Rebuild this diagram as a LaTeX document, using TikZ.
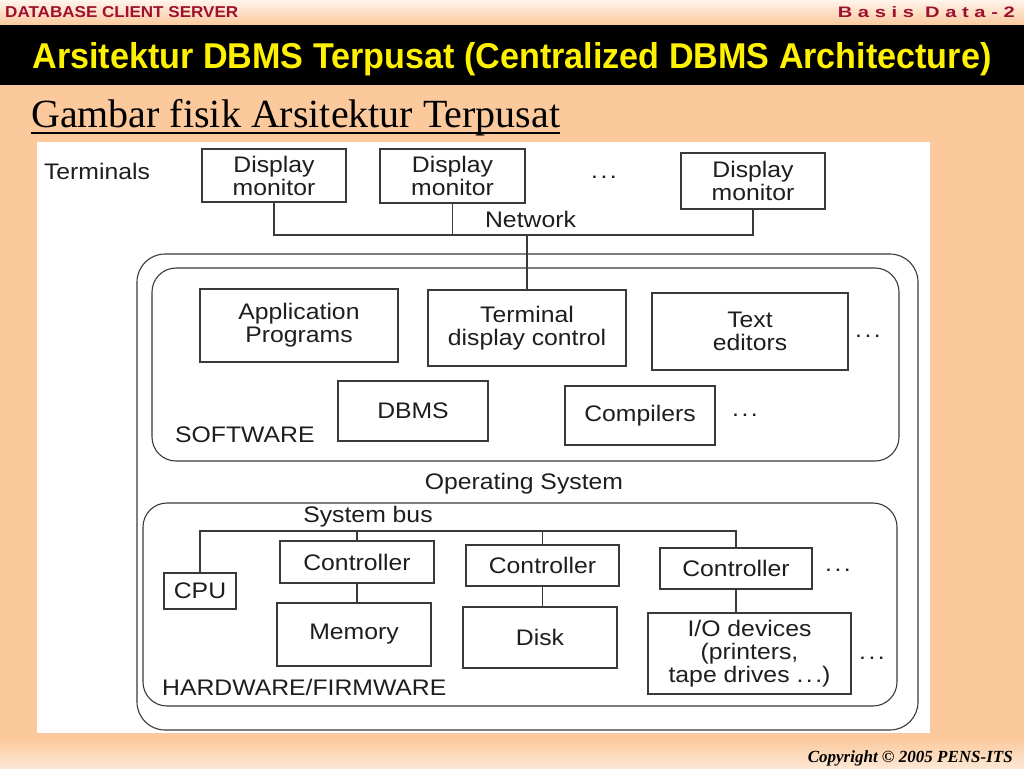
\documentclass[tikz,border=0pt]{standalone}
\usepackage{fontspec}
\setmainfont{Liberation Serif}
\newfontfamily\arial{Liberation Sans}
\newfontfamily\arialwide[FakeStretch=1.1]{Liberation Sans}
\usepackage{graphicx}
\definecolor{peach}{HTML}{FBC99C}
\definecolor{peachlight}{HTML}{FFF4EC}
\definecolor{hdrred}{HTML}{9E1030}
\definecolor{ink}{HTML}{1E1E1E}
\definecolor{linegray}{HTML}{3A3A3A}
\newcommand{\mydots}{.\kern2.5pt.\kern2.5pt.}
\tikzset{
  dtext/.style={inner sep=0pt, text=ink, align=center, font=\arialwide\fontsize{22.5}{23}\selectfont},
  dbox/.style={dtext, draw=linegray, line width=1.1pt},
  group/.style={draw=linegray, line width=1.1pt, inner sep=0pt},
  wire/.style={draw=linegray, line width=1.1pt},
}
\begin{document}
\begin{tikzpicture}[x=1pt,y=-1pt]
\useasboundingbox (0,0) rectangle (1024,768);
% background
\fill[peach] (0,0) rectangle (1024,768);
\shade[top color=peachlight, bottom color=peach] (0,0) rectangle (1024,25);
\shade[top color=peach, bottom color=peachlight!70!peach] (0,738) rectangle (1024,768);
% header
\node[anchor=west, inner sep=0pt, text=hdrred, font=\arial\bfseries] (hdrL) at (5,12.5)
  {\resizebox{233pt}{11pt}{DATABASE CLIENT SERVER}};
\node[anchor=east, inner sep=0pt, text=hdrred, font=\arial\bfseries] (hdrR) at (1015,12.5)
  {\resizebox{177pt}{11pt}{B a s i s\ \ D a t a - 2}};
\fill[black] (0,25) rectangle (1024,85);
\node[anchor=base, inner sep=0pt, text=yellow, font=\arial\bfseries] (title) at (512,69)
  {\resizebox{959pt}{26pt}{Arsitektur DBMS Terpusat (Centralized DBMS Architecture)}};
% heading
\node[anchor=base west, inner sep=0pt, text=black, font=\fontsize{38}{40}\selectfont] (head) at (31,127)
  {\resizebox{529pt}{!}{Gambar fisik Arsitektur Terpusat}};
\draw[line width=1.6pt] ([yshift=-6pt]head.base west) -- ([yshift=-6pt]head.base east);
% picture area
\fill[white] (37,142) rectangle (930,733);
% copyright
\node[anchor=base east, inner sep=0pt, font=\bfseries\itshape] (copy) at (1013,762)
  {\resizebox{205pt}{!}{Copyright \textcopyright{} 2005 PENS-ITS}};

% ---- diagram ----
\node[dtext] (terminals) at (97,171) {Terminals};
\node[dbox, minimum width=144pt, minimum height=53pt] (d1) at (274,175.5) {Display\\monitor};
\node[dbox, minimum width=145pt, minimum height=54pt] (d2) at (452.5,176) {Display\\monitor};
\node[dtext] (tdots) at (604,177) {\mydots};
\node[dbox, minimum width=144pt, minimum height=56pt] (d3) at (753,181) {Display\\monitor};
\node[dtext] (network) at (530.5,219) {Network};
\coordinate (netR) at (753,235);

% operating system container
\node[group, rounded corners=28pt, minimum width=781pt, minimum height=476pt] (os) at (527.5,492) {};
\node[dtext] (oslabel) at (524,484) {Operating System};

% software
\node[group, rounded corners=24pt, minimum width=747pt, minimum height=193pt] (sw) at (525.5,364.5) {};
\node[dtext, anchor=west] (swlabel) at (175,435) {SOFTWARE};
\node[dbox, minimum width=198pt, minimum height=73pt] (app) at (299,325.5) {Application\\Programs};
\node[dbox, minimum width=198pt, minimum height=76pt] (tdc) at (527,328) {Terminal\\display control};
\node[dbox, minimum width=196pt, minimum height=77pt] (te) at (750,331.5) {Text\\editors};
\node[dtext] (swdots1) at (868,336) {\mydots};
\node[dbox, minimum width=150pt, minimum height=60pt] (dbms) at (413,411) {DBMS};
\node[dbox, minimum width=150pt, minimum height=59pt] (comp) at (640,415.5) {Compilers};
\node[dtext] (swdots2) at (745,415) {\mydots};

% hardware
\node[group, rounded corners=24pt, minimum width=754pt, minimum height=203pt] (hw) at (520,604.5) {};
\node[dtext] (buslabel) at (368,517) {System bus};
\node[dtext, anchor=west] (hwlabel) at (162,687) {HARDWARE/FIRMWARE};
\node[dbox, minimum width=72pt, minimum height=36pt] (cpu) at (200,591) {CPU};
\node[dbox, minimum width=154pt, minimum height=42pt] (c1) at (357,562) {Controller};
\node[dbox, minimum width=154pt, minimum height=63pt] (mem) at (354,634.5) {Memory};
\node[dbox, minimum width=153pt, minimum height=41pt] (c2) at (542.5,565.5) {Controller};
\node[dbox, minimum width=154pt, minimum height=61pt] (disk) at (540,637.5) {Disk};
\node[dbox, minimum width=152pt, minimum height=41pt] (c3) at (736,568.5) {Controller};
\node[dbox, minimum width=203pt, minimum height=81pt] (io) at (749.5,653.5) {I/O devices\\(printers,\\tape drives \mydots)};
\node[dtext] (hwdots1) at (838,570) {\mydots};
\node[dtext] (hwdots2) at (872,658) {\mydots};
\coordinate (busR) at (736,531);

% connectors
\draw[wire] (d1.south) |- (netR) -- (d3.south);
\draw[wire] (d2.south) -- (d2.south |- netR);
\draw[wire] (tdc.north) -- (tdc.north |- netR);
\draw[wire] (cpu.north) |- (busR) -- (c3.north);
\draw[wire] (c1.north) -- (c1.north |- busR);
\draw[wire] (c2.north) -- (c2.north |- busR);
\draw[wire] (c1.south) -- (c1.south |- mem.north);
\draw[wire] (c2.south) -- (c2.south |- disk.north);
\draw[wire] (c3.south) -- (c3.south |- io.north);
\end{tikzpicture}
\end{document}
